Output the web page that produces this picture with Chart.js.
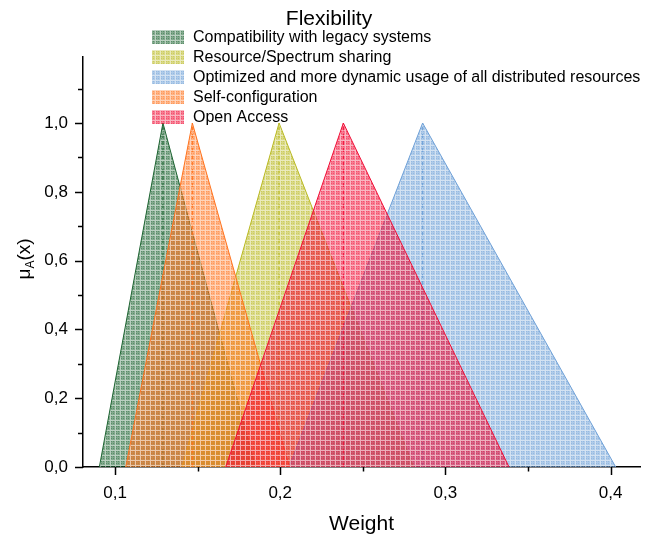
<!DOCTYPE html>
<html><head><meta charset="utf-8">
<script src="https://cdn.jsdelivr.net/npm/chart.js@4/dist/chart.umd.min.js"></script>
<style>html,body{margin:0;padding:0;background:#fff}canvas{display:block}</style>
</head><body>
<canvas id="c" width="647" height="535"></canvas>
<script>
const chartTitle = 'Flexibility';
const xAxisTitle = 'Weight';
const seriesNames = [
  'Compatibility with legacy systems',
  'Resource/Spectrum sharing',
  'Optimized and more dynamic usage of all distributed resources',
  'Self-configuration',
  'Open Access'
];
// triangular fuzzy numbers: [left, peak, right] weights
const compatibilityWeights = [0.0905, 0.129, 0.185];
const resourceSharingWeights = [0.1405, 0.1993, 0.2808];
const optimizedUsageWeights = [0.2053, 0.2862, 0.4031];
const selfConfigurationWeights = [0.1065, 0.1468, 0.2056];
const openAccessWeights = [0.167, 0.2382, 0.3385];
const membership = [0, 1, 0];
const xTickValues = [0.1, 0.2, 0.3, 0.4];
const xTickLabels = ['0,1', '0,2', '0,3', '0,4'];
const xMinorTicks = [0.15, 0.25, 0.35];
const yTickValues = [0, 0.2, 0.4, 0.6, 0.8, 1.0];
const yTickLabels = ['0,0', '0,2', '0,4', '0,6', '0,8', '1,0'];
const yMinorTicks = [0.1, 0.3, 0.5, 0.7, 0.9, 1.1];

const seriesWeights = [compatibilityWeights, resourceSharingWeights, optimizedUsageWeights, selfConfigurationWeights, openAccessWeights];
const seriesRGB = [[30,100,50],[185,185,35],[110,160,215],[255,115,30],[240,15,55]];
const drawOrder = [5,4,3,2,1];

function makePattern(rgb){
  const c = document.createElement('canvas');
  c.width = 5; c.height = 5;
  const g = c.getContext('2d');
  const [r,gr,b] = rgb;
  g.fillStyle = `rgba(${r},${gr},${b},0.55)`;
  g.fillRect(0,0,5,5);
  g.fillStyle = `rgba(${r},${gr},${b},0.4)`;
  g.fillRect(1,1,1,1); g.fillRect(3,3,1,1); g.fillRect(1,3,1,1); g.fillRect(3,1,1,1);
  g.fillStyle = 'rgba(255,255,255,0.45)';
  g.fillRect(0,0,5,1); g.fillRect(0,1,1,4);
  return g.createPattern(c,'repeat');
}
const patterns = seriesRGB.map(makePattern);
const rgbStr = (c)=>`rgb(${c[0]},${c[1]},${c[2]})`;

const datasets = [];
seriesWeights.forEach((w,i)=>{
  datasets.push({
    label: seriesNames[i],
    data: w.map((x,k)=>({x:x, y:membership[k]})),
    showLine: true, fill: 'origin',
    borderColor: rgbStr(seriesRGB[i]), borderWidth: 1,
    backgroundColor: patterns[i],
    pointRadius: 0, tension: 0, order: drawOrder[i]
  });
  datasets.push({
    label: seriesNames[i] + ' peak',
    data: [{x:w[1], y:0}, {x:w[1], y:membership[1]}],
    showLine: true, fill: false,
    borderColor: rgbStr(seriesRGB[i]), borderWidth: 1, borderDash: [4,3],
    pointRadius: 0, order: drawOrder[i]
  });
});

const FONT = '"Liberation Sans", Arial, sans-serif';

const decor = {
  id: 'decor',
  afterDraw(chart){
    const ctx = chart.ctx;
    const xs = chart.scales.x, ys = chart.scales.y;
    ctx.save();
    ctx.strokeStyle = '#000'; ctx.lineWidth = 1.5;
    const y0 = ys.getPixelForValue(0), x0 = xs.left;
    xTickValues.forEach(v=>{ const p = Math.round(xs.getPixelForValue(v))+0.5; ctx.beginPath(); ctx.moveTo(p,y0); ctx.lineTo(p,y0+8); ctx.stroke(); });
    xMinorTicks.forEach(v=>{ const p = Math.round(xs.getPixelForValue(v))+0.5; ctx.beginPath(); ctx.moveTo(p,y0); ctx.lineTo(p,y0+4.5); ctx.stroke(); });
    yTickValues.forEach(v=>{ const p = Math.round(ys.getPixelForValue(v))+0.5; ctx.beginPath(); ctx.moveTo(x0,p); ctx.lineTo(x0-8,p); ctx.stroke(); });
    yMinorTicks.forEach(v=>{ const p = Math.round(ys.getPixelForValue(v))+0.5; ctx.beginPath(); ctx.moveTo(x0,p); ctx.lineTo(x0-5,p); ctx.stroke(); });
    ctx.fillStyle = '#000';
    ctx.textAlign = 'center'; ctx.textBaseline = 'middle';
    ctx.font = '21px ' + FONT;
    ctx.fillText(chartTitle, 329, 19);
    ctx.fillText(xAxisTitle, (xs.left + xs.right)/2, 524);
    ctx.font = '16px ' + FONT;
    ctx.textAlign = 'left';
    seriesNames.forEach((n,i)=>{
      const cy = 37 + i*20;
      ctx.fillStyle = patterns[i];
      ctx.fillRect(152, cy-7, 32, 14);
      ctx.fillStyle = '#000';
      ctx.fillText(n, 193, cy+1);
    });
    ctx.translate(24, 259);
    ctx.rotate(-Math.PI/2);
    ctx.textBaseline = 'alphabetic';
    ctx.font = '19px ' + FONT;
    const wMu = ctx.measureText('\u03bc').width;
    ctx.font = '12px ' + FONT;
    const wA = ctx.measureText('A').width;
    ctx.font = '19px ' + FONT;
    const wX = ctx.measureText('(x)').width;
    let sx = -(wMu + wA + wX)/2;
    ctx.fillText('\u03bc', sx, 6); sx += wMu;
    ctx.font = '12px ' + FONT; ctx.fillText('A', sx, 10); sx += wA;
    ctx.font = '19px ' + FONT; ctx.fillText('(x)', sx, 6);
    ctx.restore();
  }
};

new Chart(document.getElementById('c'), {
  type: 'scatter',
  data: { datasets },
  options: {
    responsive: false, animation: false, devicePixelRatio: 1,
    layout: { padding: { top: 57, right: 7, left: 0, bottom: 0 } },
    plugins: { legend: { display: false }, tooltip: { enabled: false } },
    scales: {
      x: {
        type: 'linear', min: 0.0806, max: 0.4178,
        afterBuildTicks: (s)=>{ s.ticks = xTickValues.map(v=>({value:v})); },
        afterFit: (s)=>{ s.height = 68; },
        ticks: { padding: 16, color: '#000', font: { size: 17, family: FONT },
          callback: (v)=>{ const i = xTickValues.findIndex(t=>Math.abs(t-v)<1e-9); return i>=0 ? xTickLabels[i] : ''; } },
        grid: { display: false, drawTicks: false },
        border: { display: true, color: '#000', width: 1.5 }
      },
      y: {
        type: 'linear', min: 0, max: 1.192,
        afterBuildTicks: (s)=>{ s.ticks = yTickValues.map(v=>({value:v})); },
        afterFit: (s)=>{ s.width = 83; },
        ticks: { padding: 15, color: '#000', font: { size: 17, family: FONT },
          callback: (v)=>{ const i = yTickValues.findIndex(t=>Math.abs(t-v)<1e-9); return i>=0 ? yTickLabels[i] : ''; } },
        grid: { display: false, drawTicks: false },
        border: { display: true, color: '#000', width: 1.5 }
      }
    }
  },
  plugins: [decor]
});
</script>
</body></html>
